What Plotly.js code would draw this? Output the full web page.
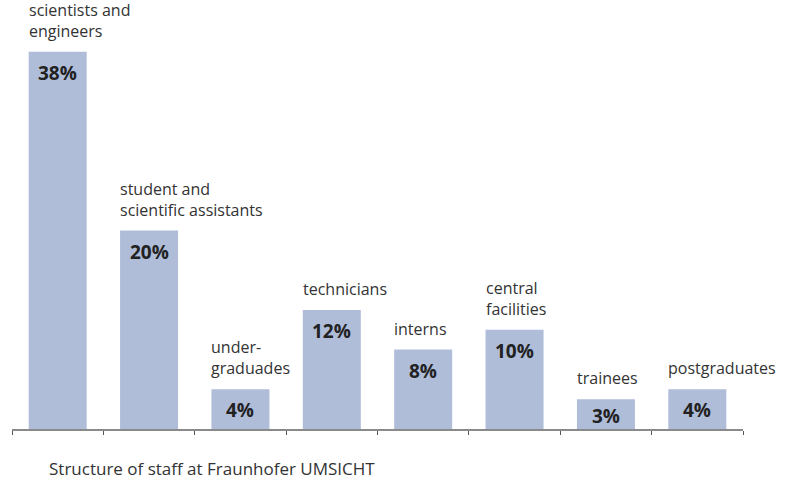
<!DOCTYPE html>
<html>
<head>
<meta charset="utf-8">
<script src="https://cdn.plot.ly/plotly-3.0.1.min.js"></script>
<style>html,body{margin:0;padding:0;background:#fff;}#chart{width:793px;height:485px;}</style>
</head>
<body>
<div id="chart"></div>
<script>
const categories = ["scientists and<br>engineers", "student and<br>scientific assistants", "under-<br>graduades", "technicians", "interns", "central<br>facilities", "trainees", "postgraduates"];
const shares = [38, 20, 4, 12, 8, 10, 3, 4];
const valueLabels = ["38%", "20%", "4%", "12%", "8%", "10%", "3%", "4%"];
const caption = "Structure of staff at Fraunhofer UMSICHT";

const FONT = "Open Sans, Noto Sans, DejaVu Sans, sans-serif";
const xs = categories.map((c, i) => "c" + i);
const yMax = 40;
const plotW = 793 - 12 - 50;
const plotH = 485 - 32 - 56;
const pxPerUnit = plotH / yMax;
const barFrac = 0.635;
const halfBarPx = (plotW / categories.length) * barFrac / 2;

const annotations = [];
shares.forEach((v, i) => {
  const hPx = v * pxPerUnit;
  const shift = Math.min(21, hPx - 13);
  annotations.push({
    x: xs[i], y: v, xref: "x", yref: "y",
    text: "<b>" + valueLabels[i] + "</b>",
    showarrow: false, yanchor: "middle", xanchor: "center",
    yshift: -shift,
    font: {family: FONT, size: 19, color: "#222222"}
  });
  annotations.push({
    x: xs[i], y: v, xref: "x", yref: "y",
    text: categories[i],
    showarrow: false, yanchor: "bottom", xanchor: "left", align: "left",
    xshift: -halfBarPx - 2, yshift: 8,
    font: {family: FONT, size: 16, color: "#333333"}
  });
});
annotations.push({
  xref: "paper", yref: "paper",
  x: (47 - 12) / plotW, xanchor: "left",
  y: (485 - 56 - 468) / plotH, yanchor: "middle",
  text: caption, showarrow: false,
  font: {family: FONT, size: 17, color: "#333333"}
});

const data = [{
  type: "bar", x: xs, y: shares,
  marker: {color: "#afbdd9", line: {width: 0}},
  width: barFrac, hoverinfo: "none"
}];

const layout = {
  width: 793, height: 485,
  margin: {l: 12, r: 50, t: 32, b: 56, pad: 0},
  paper_bgcolor: "#ffffff", plot_bgcolor: "#ffffff",
  showlegend: false,
  xaxis: {
    type: "category", range: [-0.5, categories.length - 0.5],
    showticklabels: false, tickson: "boundaries",
    ticks: "outside", ticklen: 4, tickcolor: "#555555", tickwidth: 1,
    showline: true, linecolor: "#8a8a8a", linewidth: 2,
    showgrid: false, zeroline: false, fixedrange: true
  },
  yaxis: {
    range: [0, yMax], visible: false, showgrid: false, zeroline: false, fixedrange: true
  },
  annotations: annotations
};

Plotly.newPlot("chart", data, layout, {staticPlot: true, displayModeBar: false});
</script>
</body>
</html>
